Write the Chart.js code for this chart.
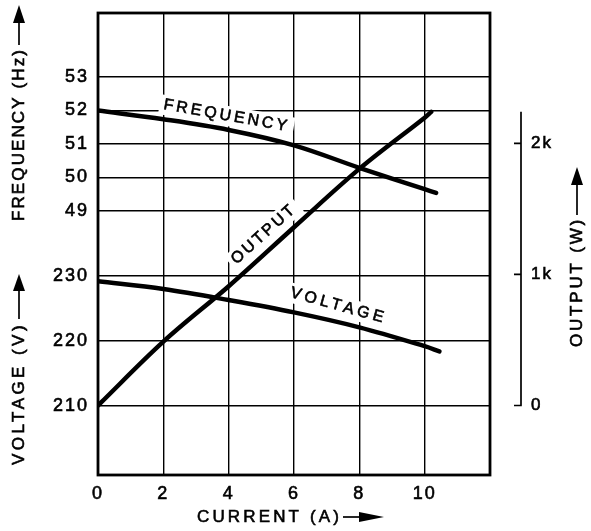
<!DOCTYPE html>
<html>
<head>
<meta charset="utf-8">
<script src="https://cdn.jsdelivr.net/npm/chart.js@4.4.1/dist/chart.umd.min.js"></script>
<style>
  html, body { margin: 0; padding: 0; background: #fff; }
  canvas { display: block; }
</style>
</head>
<body>
<canvas id="chart" width="591" height="531"></canvas>
<script>
// values
const freqCurrent = [0, 2, 4, 6, 8, 10, 10.35];
const frequency = [52.0, 51.74, 51.42, 50.96, 50.29, 49.65, 49.54];
const voltCurrent = [0, 2, 4, 6, 8, 10, 10.45];
const voltage = [229.2, 228.0, 226.3, 224.4, 222.1, 219.2, 218.4];
const outCurrent = [0, 2, 4, 6, 8, 10, 10.2];
const output = [0, 487, 910, 1360, 1805, 2195, 2240];

const currentTicks = [0, 2, 4, 6, 8, 10, 12];
const freqTicks = [49, 50, 51, 52, 53];
const voltTicks = [210, 220, 230];
const outTicks = [0, 1000, 2000];

const FONT = "'Liberation Sans', Arial, sans-serif";
const axisFont = { family: FONT, size: 18 };
const tickStyle = { font: axisFont, color: "#000", textStrokeColor: "#000", textStrokeWidth: 0.6 };

const curveLabels = [
  { text: "FREQUENCY", x: 3.94, y: 51.84, axis: "yF", angle: 10, span: 128 },
  { text: "OUTPUT", x: 5.08, y: 1308, axis: "yOut", angle: -42, span: 82 },
  { text: "VOLTAGE", x: 7.37, y: 225.4, axis: "yV", angle: 15.5, span: 100 },
];

function fitText(ctx, text, span) {
  ctx.letterSpacing = "0px";
  const w = ctx.measureText(text).width;
  ctx.letterSpacing = ((span - w) / text.length) + "px";
}

function heavyText(ctx, text, x, y) {
  ctx.lineWidth = 0.6;
  ctx.strokeStyle = "#000";
  ctx.fillText(text, x, y);
  ctx.strokeText(text, x, y);
}

function titleWithArrow(ctx, text, x, y, rot, span, gap, line, head, half) {
  ctx.save();
  ctx.translate(x, y);
  ctx.rotate(rot);
  ctx.font = "17px " + FONT;
  ctx.fillStyle = "#000";
  ctx.textAlign = "left";
  ctx.textBaseline = "middle";
  fitText(ctx, text, span);
  heavyText(ctx, text, 0, 0);
  const a = span + gap;
  ctx.lineWidth = 1.7;
  ctx.beginPath();
  ctx.moveTo(a, 0);
  ctx.lineTo(a + line, 0);
  ctx.stroke();
  ctx.beginPath();
  ctx.moveTo(a + line, -half);
  ctx.lineTo(a + line + head, 0);
  ctx.lineTo(a + line, half);
  ctx.closePath();
  ctx.fill();
  ctx.restore();
}

const decor = {
  id: "decor",
  beforeDraw(chart) {
    chart.ctx.letterSpacing = "2px";
  },
  beforeDatasetsDraw(chart) {
    const ctx = chart.ctx;
    const xs = chart.scales.x;
    curveLabels.forEach(l => {
      const px = xs.getPixelForValue(l.x);
      const py = chart.scales[l.axis].getPixelForValue(l.y);
      ctx.save();
      ctx.translate(px, py);
      ctx.rotate(l.angle * Math.PI / 180);
      ctx.fillStyle = "#fff";
      ctx.fillRect(-l.span / 2 - 4, -10, l.span + 8, 20);
      ctx.font = "16px " + FONT;
      ctx.fillStyle = "#000";
      ctx.textAlign = "center";
      ctx.textBaseline = "middle";
      fitText(ctx, l.text, l.span);
      heavyText(ctx, l.text, 0, 0);
      ctx.restore();
    });
  },
  afterDraw(chart) {
    const ctx = chart.ctx;
    const a = chart.chartArea;
    ctx.save();
    ctx.strokeStyle = "#000";
    ctx.lineWidth = 2.8;
    ctx.strokeRect(a.left, a.top, a.right - a.left, a.bottom - a.top);

    // separate output scale line on the right
    const yo = chart.scales.yOut;
    const lx = a.right + 31;
    ctx.lineWidth = 1.7;
    ctx.beginPath();
    ctx.moveTo(lx, yo.getPixelForValue(2240));
    ctx.lineTo(lx, yo.getPixelForValue(0));
    outTicks.forEach(v => {
      const y = yo.getPixelForValue(v);
      ctx.moveTo(lx - 7, y);
      ctx.lineTo(lx + 0.8, y);
    });
    ctx.stroke();
    ctx.restore();

    titleWithArrow(ctx, "FREQUENCY (Hz)", 19, 221, -Math.PI / 2, 173, 3, 22, 18, 6);
    titleWithArrow(ctx, "VOLTAGE (V)", 19, 465, -Math.PI / 2, 143, 3, 28, 17, 6);
    titleWithArrow(ctx, "OUTPUT (W)", 577, 347, -Math.PI / 2, 130, 2, 30, 18, 6);
    titleWithArrow(ctx, "CURRENT (A)", 197, 517, 0, 145, 1, 16, 25, 5);
  }
};

const lineStyle = {
  borderColor: "#000",
  borderWidth: 4.5,
  pointRadius: 0,
  tension: 0.35,
  borderCapStyle: "round",
  fill: false,
};

const grid = { color: "#000", lineWidth: 1.4, drawTicks: false };

function fixedTicks(list) {
  return scale => { scale.ticks = list.map(v => ({ value: v })); };
}

function fixedWidth(w) {
  return scale => {
    scale.width = w;
    scale.paddingTop = 0;
    scale.paddingBottom = 0;
  };
}

new Chart(document.getElementById("chart"), {
  type: "line",
  data: {
    datasets: [
      { label: "Frequency", yAxisID: "yF", ...lineStyle,
        data: freqCurrent.map((x, i) => ({ x, y: frequency[i] })) },
      { label: "Voltage", yAxisID: "yV", ...lineStyle,
        data: voltCurrent.map((x, i) => ({ x, y: voltage[i] })) },
      { label: "Output", yAxisID: "yOut", ...lineStyle,
        data: outCurrent.map((x, i) => ({ x, y: output[i] })) },
    ],
  },
  options: {
    responsive: false,
    animation: false,
    layout: { padding: { top: 13, right: 0, bottom: 0, left: 0 } },
    plugins: { legend: { display: false }, tooltip: { enabled: false } },
    scales: {
      x: {
        type: "linear", min: 0, max: 12,
        grid, border: { display: false },
        afterBuildTicks: fixedTicks(currentTicks),
        ticks: { ...tickStyle, padding: 8, maxRotation: 0,
                 callback: v => (v === 12 ? "" : v) },
        afterFit: s => { s.height = 56; },
      },
      yV: {
        type: "linear", position: "left", stack: "left", stackWeight: 1,
        min: 199.38, max: 234.92,
        grid, border: { display: false },
        afterBuildTicks: fixedTicks(voltTicks),
        ticks: { ...tickStyle, padding: 9 },
        afterFit: fixedWidth(98),
      },
      yF: {
        type: "linear", position: "left", stack: "left", stackWeight: 1,
        min: 48.015, max: 54.91,
        grid, border: { display: false },
        afterBuildTicks: fixedTicks(freqTicks),
        ticks: { ...tickStyle, padding: 9 },
        afterFit: fixedWidth(98),
      },
      yOut: {
        type: "linear", position: "right",
        min: -530, max: 2994,
        grid: { display: false }, border: { display: false },
        afterBuildTicks: fixedTicks(outTicks),
        ticks: { ...tickStyle, font: { family: FONT, size: 17 }, padding: 33,
                 callback: v => (v === 0 ? "0" : v / 1000 + "k") },
        afterFit: fixedWidth(101),
      },
    },
  },
  plugins: [decor],
});
</script>
</body>
</html>
